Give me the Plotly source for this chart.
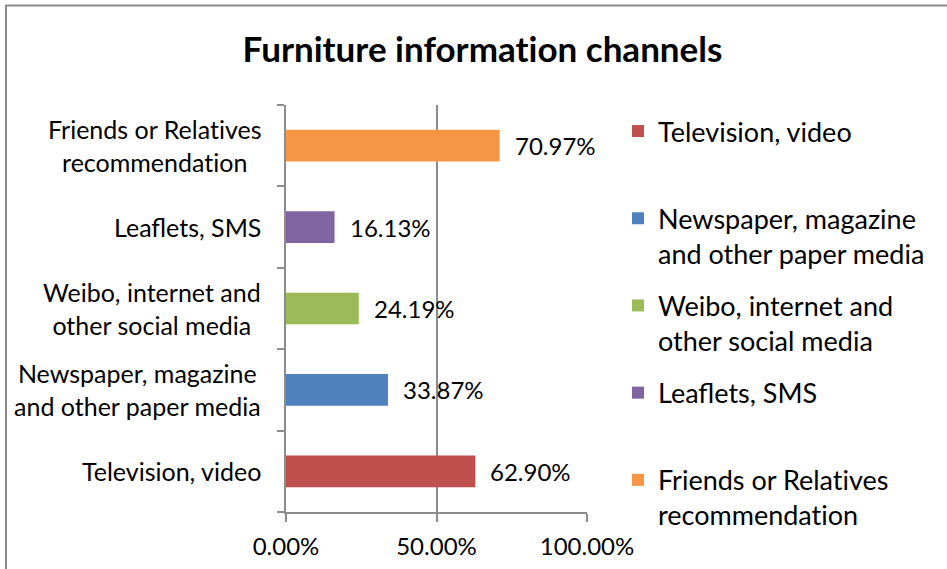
import plotly.graph_objects as go

# Channel names (bottom to top on the category axis) and their shares
categories = [
    "Television, video",
    "Newspaper, magazine<br>and other paper media",
    "Weibo, internet and<br>other social media",
    "Leaflets, SMS",
    "Friends or Relatives<br>recommendation",
]
values = [0.6290, 0.3387, 0.2419, 0.1613, 0.7097]
colors = ["#C0504D", "#4F81BD", "#9BBB59", "#8064A2", "#F79646"]
x_ticks = [0.0, 0.5, 1.0]
title_text = "Furniture information channels"

FONT = "Lato, 'Open Sans', sans-serif"
GRID = "#8c8c8c"

W, H = 947, 569
ML, MR, MT, MB = 286, 360, 105, 57
PW, PH = W - ML - MR, H - MT - MB


def px_to_paper_x(px):
    return (px - ML) / PW


def px_to_paper_y(py):
    return (H - MB - py) / PH


def no_ti_ligature(s):
    # Lato joins "ti" into one glyph; a zero-width non-joiner keeps them apart
    return s.replace("ti", "t\u200ci")


fig = go.Figure()

for cat, val, col in zip(categories, values, colors):
    label = no_ti_ligature(cat)
    # every legend entry takes two lines so entries are evenly spaced
    legend_name = label if "<br>" in label else label + "<br> "
    fig.add_trace(go.Bar(
        x=[val], y=[cat], orientation="h",
        name=legend_name, legendgroup=cat,
        marker=dict(color=col, line=dict(width=0)),
        width=0.39,
        hoverinfo="skip",
    ))
    # value label just past the end of each bar
    fig.add_annotation(
        x=val, y=cat, xref="x", yref="y",
        text=f"{val:.2%}", showarrow=False,
        xanchor="left", yanchor="middle", xshift=13,
        font=dict(family=FONT, size=24, color="black"),
    )
    # category label, centred lines, right edge near the axis
    fig.add_annotation(
        x=0, y=cat, xref="paper", yref="y",
        text=label, showarrow=False, align="center",
        xanchor="right", yanchor="middle", xshift=-23,
        font=dict(family=FONT, size=25, color="black"),
    )

# outer chart frame
fig.add_shape(
    type="rect", xref="paper", yref="paper",
    x0=px_to_paper_x(6), x1=px_to_paper_x(990),
    y0=px_to_paper_y(620), y1=px_to_paper_y(5.5),
    line=dict(color="#8a8a8a", width=2), fillcolor="rgba(0,0,0,0)",
    layer="below",
)

fig.update_layout(
    width=W, height=H,
    margin=dict(l=ML, r=MR, t=MT, b=MB, autoexpand=False),
    paper_bgcolor="white", plot_bgcolor="white",
    barmode="overlay",
    font=dict(family=FONT, size=24, color="black"),
    title=dict(
        text=f"<b>{no_ti_ligature(title_text)}</b>",
        x=px_to_paper_x(482.5), xref="paper", xanchor="center",
        y=1 - 50 / H, yref="container", yanchor="middle",
        font=dict(family=FONT, size=35, color="black"),
    ),
    showlegend=True,
    legend=dict(
        x=px_to_paper_x(618), y=px_to_paper_y(107),
        xanchor="left", yanchor="top",
        traceorder="grouped", tracegroupgap=14,
        valign="top", itemclick=False, maxheight=1000,
        font=dict(family=FONT, size=27, color="black"),
        bgcolor="rgba(0,0,0,0)",
    ),
    xaxis=dict(
        range=[0, 1], tickvals=x_ticks, tickformat=".2%",
        showgrid=True, gridcolor=GRID, gridwidth=1.5,
        showline=True, linecolor=GRID, linewidth=1.5,
        ticks="outside", ticklen=8, tickcolor=GRID, tickwidth=1.5,
        ticklabelstandoff=4,
        zeroline=False, fixedrange=True,
        tickfont=dict(family=FONT, size=24, color="black"),
    ),
    yaxis=dict(
        type="category", categoryorder="array", categoryarray=categories,
        showticklabels=False, showgrid=False,
        showline=True, linecolor=GRID, linewidth=1.5,
        ticks="outside", ticklen=7, tickcolor=GRID, tickwidth=1.5,
        tickson="boundaries", zeroline=False, fixedrange=True,
    ),
)

fig.write_html("out.html", config=dict(displayModeBar=False))
